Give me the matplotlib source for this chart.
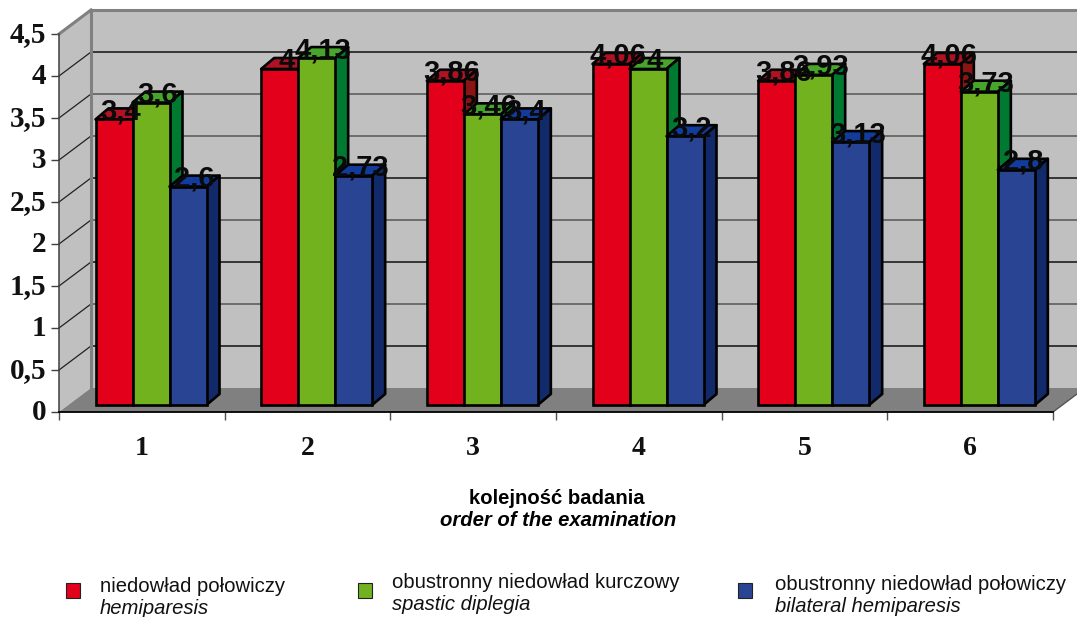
import matplotlib
matplotlib.use("Agg")
import matplotlib.pyplot as plt
from matplotlib.patches import Polygon, Rectangle
from matplotlib.transforms import ScaledTranslation

categories = ["1", "2", "3", "4", "5", "6"]
hemiparesis = [3.4, 4.0, 3.86, 4.06, 3.86, 4.06]
diplegia = [3.6, 4.13, 3.46, 4.0, 3.93, 3.73]
bilateral = [2.6, 2.73, 3.4, 3.2, 3.13, 2.8]
labels_hemi = ["3,4", "4", "3,86", "4,06", "3,86", "4,06"]
labels_dipl = ["3,6", "4,13", "3,46", "4", "3,93", "3,73"]
labels_bila = ["2,6", "2,73", "3,4", "3,2", "3,13", "2,8"]
y_ticks = [0, 0.5, 1, 1.5, 2, 2.5, 3, 3.5, 4, 4.5]
y_tick_labels = ["0", "0,5", "1", "1,5", "2", "2,5", "3", "3,5", "4", "4,5"]
legend_pl = ["niedowład połowiczy", "obustronny niedowład kurczowy", "obustronny niedowład połowiczy"]
legend_en = ["hemiparesis", "spastic diplegia", "bilateral hemiparesis"]

W, H = 1077, 617
fig = plt.figure(figsize=(W / 100, H / 100), dpi=100, facecolor="white")
ax = fig.add_axes([59 / W, (H - 412) / H, (1053 - 59) / W, (412 - 34) / H])
ax.set_xlim(0, 6)
ax.set_ylim(0, 4.5)
ax.patch.set_visible(False)

PX = 6 / (1053 - 59)
PY = 4.5 / (412 - 34)
DX, DY = 32 * PX, 24 * PY
BW = 37 * PX
START = 36.5 * PX
LIFT = 7 * PY
BDX, BDY = 13 * PX, 11 * PY

WALL = "#C0C0C0"
FLOOR = "#808080"
kw = dict(clip_on=False)
# back wall, side wall, floor
ax.add_patch(Polygon([(DX, DY), (6 + DX, DY), (6 + DX, 4.5 + DY), (DX, 4.5 + DY)], fc=WALL, ec="none", zorder=1, **kw))
ax.add_patch(Polygon([(0, 0), (DX, DY), (DX, 4.5 + DY), (0, 4.5)], fc=WALL, ec="none", zorder=1, **kw))
ax.add_patch(Polygon([(0, 0), (DX, DY), (6 + DX, DY), (6, 0)], fc=FLOOR, ec="none", zorder=1.5, **kw))
for v in y_ticks[1:-1]:
    c = "#111111" if v in (0.5, 1.5, 2.5, 4) else "#555555"
    ax.plot([0, DX], [v, v + DY], color="#222222", lw=0.9, zorder=2, **kw)
    ax.plot([DX, 6 + DX], [v + DY, v + DY], color=c, lw=1.1, zorder=2, **kw)
ax.plot([DX, DX], [DY, 4.5 + DY], color=FLOOR, lw=2.2, zorder=2, **kw)
ax.plot([0, DX], [4.5, 4.5 + DY], color=FLOOR, lw=2.2, zorder=2, **kw)
ax.plot([DX, 6 + DX], [4.5 + DY, 4.5 + DY], color=FLOOR, lw=2.2, zorder=2, **kw)
ax.plot([6, 6 + DX], [0, DY], color="#555555", lw=1, zorder=2, **kw)

series = [
    (hemiparesis, labels_hemi, "#E2001A", "#B01224", "#8A1414"),
    (diplegia, labels_dipl, "#73B21F", "#46A52A", "#007A30"),
    (bilateral, labels_bila, "#2A4494", "#123C9C", "#122A6A"),
]
EDGE = 1.9
zb = 3
for j, (vals, labs, front, top, side) in enumerate(series):
    lefts = [i + START + j * BW for i in range(len(vals))]
    for x0, v in zip(lefts, vals):
        y1 = v + LIFT
        ax.add_patch(Polygon([(x0, y1), (x0 + BDX, y1 + BDY), (x0 + BW + BDX, y1 + BDY), (x0 + BW, y1)],
                             fc=top, ec="black", lw=EDGE, joinstyle="round", zorder=zb, **kw))
        ax.add_patch(Polygon([(x0 + BW, LIFT), (x0 + BW + BDX, LIFT + BDY), (x0 + BW + BDX, y1 + BDY), (x0 + BW, y1)],
                             fc=side, ec="black", lw=EDGE, joinstyle="round", zorder=zb, **kw))
    ax.bar(lefts, vals, width=BW, bottom=LIFT, align="edge", color=front, edgecolor="black", linewidth=EDGE, zorder=zb + 0.5)
    zb += 1
for j, (vals, labs, *_r) in enumerate(series):
    for i, (v, s) in enumerate(zip(vals, labs)):
        ax.text(i + START + (j + 0.5) * BW + 6.5 * PX, v + LIFT, s, ha="center", va="baseline",
                family="Liberation Sans", fontweight="bold", fontsize=21, color="#0a0a0a", zorder=10)

for s in ("top", "right"):
    ax.spines[s].set_visible(False)
ax.spines["left"].set_color("#404040")
ax.spines["left"].set_linewidth(1.1)
ax.spines["bottom"].set_color("black")
ax.spines["bottom"].set_linewidth(1.3)
ax.spines["left"].set_zorder(2.5)
ax.spines["bottom"].set_zorder(2.5)

ax.set_yticks(y_ticks)
ax.set_yticklabels(y_tick_labels, family="Liberation Serif", fontweight="bold", fontsize=21, color="#111111")
ax.tick_params(axis="y", length=5.5, width=1, color="#404040", pad=3.5)
shift = ScaledTranslation(0, 2 / 100, fig.dpi_scale_trans)
for lab in ax.get_yticklabels():
    lab.set_transform(lab.get_transform() + shift)
ax.set_xticks(range(7))
ax.set_xticklabels([])
ax.tick_params(axis="x", which="major", length=5.5, width=1, color="#505050")
ax.set_xticks([i + 0.5 for i in range(6)], minor=True)
ax.set_xticklabels(categories, minor=True, family="Liberation Serif", fontweight="bold", fontsize=20, color="#111111")
ax.tick_params(axis="x", which="minor", length=0, pad=17)


def px(x, y):
    return x / W, 1 - y / H


fig.text(*px(557, 498), "kolejność badania", ha="center", va="center", family="Liberation Sans", fontweight="bold", fontsize=14.6)
fig.text(*px(558, 521), "order of the examination", ha="center", va="center", family="Liberation Sans",
         fontweight="bold", fontstyle="italic", fontsize=14.6)

for x_box, x_txt, y0, c, pl, en in zip([66, 358, 738], [100, 392, 775], [587, 583, 584],
                                       [s[2] for s in series], legend_pl, legend_en):
    fig.add_artist(Rectangle(px(x_box, 598), 14 / W, 15 / H, transform=fig.transFigure, fc=c, ec="#222222", lw=0.8))
    fig.text(*px(x_txt, y0), pl, ha="left", va="center", family="Liberation Sans", fontsize=14.55, color="#111111")
    fig.text(*px(x_txt, y0 + 22), en, ha="left", va="center", family="Liberation Sans", fontstyle="italic", fontsize=14.6, color="#111111")

fig.savefig("out.png", dpi=100)
